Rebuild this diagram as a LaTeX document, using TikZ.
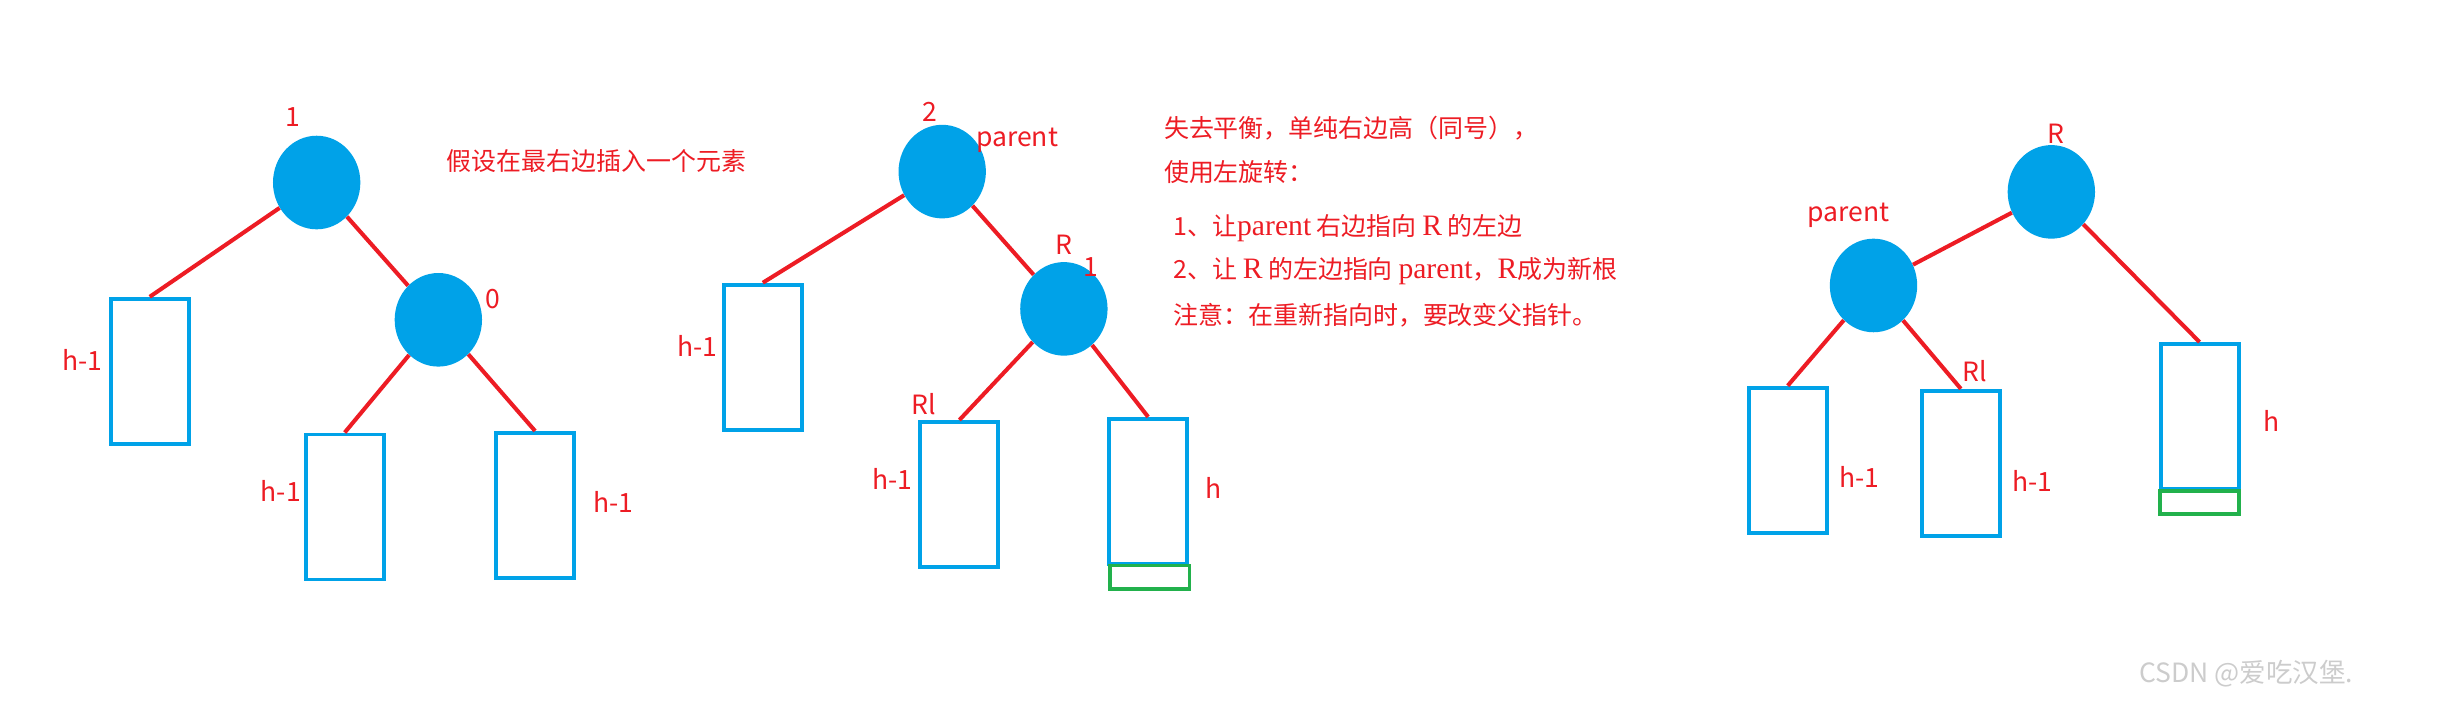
\documentclass[tikz,border=0pt]{standalone}
\usepackage{fontspec}
\setmainfont{Noto Sans CJK SC}
\newfontfamily\serifpart{Liberation Serif}
\usetikzlibrary{shapes.geometric, positioning}
\definecolor{lred}{RGB}{237,28,36}
\definecolor{lblue}{RGB}{0,162,232}
\definecolor{lgreen}{RGB}{34,177,76}
\begin{document}
\begin{tikzpicture}[x=1pt,y=-1pt,
  tnode/.style={ellipse,fill=lblue,minimum width=56pt,minimum height=60pt,inner sep=0pt},
  sub/.style={draw=lblue,line width=2.5pt,minimum width=50pt,minimum height=93pt,inner sep=0pt},
  extra/.style={draw=lgreen,line width=2.5pt,minimum width=51pt,minimum height=15pt,inner sep=0pt},
  edge/.style={draw=lred,line width=2.6pt},
  lbl/.style={text=lred,font=\fontsize{17}{20}\selectfont,inner sep=0pt},
  note/.style={text=lred,font=\fontsize{16}{28}\selectfont,inner sep=0pt,anchor=west}]
\useasboundingbox (0,0) rectangle (1568,458);
% before insertion
\node[tnode] (r1) at (203,117) {};
\node[tnode] (c1) at (281,205) {};
\node[sub] (a1) at (96,238) {};
\node[sub] (b1) at (221,325) {};
\node[sub] (d1) at (343,324) {};
\draw[edge] (r1) -- (a1.north);
\draw[edge] (r1) -- (c1);
\draw[edge] (c1) -- (b1.north);
\draw[edge] (c1) -- (d1.north);
\node[lbl] (n1) at (188,75) {1};
\node[lbl] (n0) at (316,192) {0};
\node[lbl] at (53,231) {h-1};
\node[lbl] at (180,315) {h-1};
\node[lbl] at (393,322) {h-1};
\node[note] at (286,103) {假设在最右边插入一个元素};
% unbalanced
\node[tnode] (p2) at (604,110) {};
\node[tnode] (q2) at (682,198) {};
\node[sub] (a2) at (489,229) {};
\node[sub] (b2) at (615,317) {};
\node[sub] (d2) at (736,315) {};
\node[extra] (g2) at (737,370) {};
\draw[edge] (p2) -- (a2.north);
\draw[edge] (p2) -- (q2);
\draw[edge] (q2) -- (b2.north);
\draw[edge] (q2) -- (d2.north);
\node[lbl] at (596,72) {2};
\node[lbl] at (652,90) {parent};
\node[lbl] at (682,157) {R};
\node[lbl] at (699,171) {1};
\node[lbl] at (447,222) {h-1};
\node[lbl] at (592,259) {Rl};
\node[lbl] at (572,307) {h-1};
\node[lbl] at (778,313) {h};
\node[note] at (746,82) {失去平衡，单纯右边高（同号），};
\node[note] at (746,110) {使用左旋转：};
\node[note] at (752,146) {1、让{\serifpart\fontsize{19}{20}\selectfont parent} 右边指向 {\serifpart\fontsize{19}{20}\selectfont R} 的左边};
\node[note] at (752,174) {2、让 {\serifpart\fontsize{19}{20}\selectfont R} 的左边指向 {\serifpart\fontsize{19}{20}\selectfont parent}，{\serifpart\fontsize{19}{20}\selectfont R}成为新根};
\node[note] at (752,202) {注意：在重新指向时，要改变父指针。};
% after left rotation
\node[tnode] (q3) at (1315,123) {};
\node[tnode] (p3) at (1201,183) {};
\node[sub] (a3) at (1146,295) {};
\node[sub] (b3) at (1257,297) {};
\node[sub] (d3) at (1410,267) {};
\node[extra] (g3) at (1410,322) {};
\draw[edge] (q3) -- (p3);
\draw[edge] (q3) -- (d3.north);
\draw[edge] (p3) -- (a3.north);
\draw[edge] (p3) -- (b3.north);
\node[lbl] at (1318,86) {R};
\node[lbl] at (1185,138) {parent};
\node[lbl] at (1266,238) {Rl};
\node[lbl] at (1192,306) {h-1};
\node[lbl] at (1303,308) {h-1};
\node[lbl] at (1456,270) {h};
\node[text=black!20,font=\fontsize{17}{20}\selectfont] at (1440,432) {CSDN @爱吃汉堡.};
\end{tikzpicture}
\end{document}
